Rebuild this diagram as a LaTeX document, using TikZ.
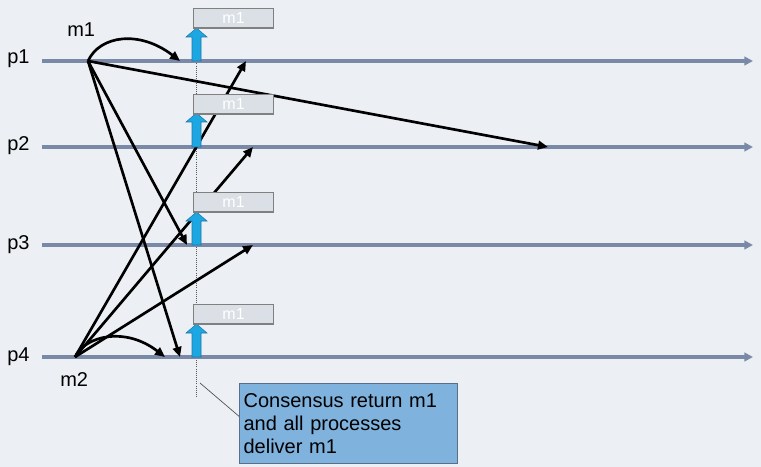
\documentclass[tikz,border=0pt]{standalone}
\usepackage{fontspec}
\setmainfont{Liberation Sans}
\usetikzlibrary{arrows.meta,calc}
\definecolor{bgc}{RGB}{236,239,243}
\definecolor{linec}{RGB}{122,138,166}
\definecolor{bluearr}{RGB}{28,167,226}
\definecolor{bluearrd}{RGB}{30,120,170}
\definecolor{boxfill}{RGB}{218,224,229}
\definecolor{boxdraw}{RGB}{128,128,128}
\definecolor{callfill}{RGB}{127,178,221}
\definecolor{calldraw}{RGB}{90,110,135}
\newcommand\upshaft[2]{%
  \filldraw[uparr] (192,#1) -- (192,{#2+9}) -- (186,{#2+9}) -- (196.5,#2) -- (207,{#2+9}) -- (201,{#2+9}) -- (201,#1) -- cycle;}
\begin{document}
\begin{tikzpicture}[x=0.75pt,y=-0.75pt,
  timeline/.style={draw=linec,line width=2.3pt,-{Triangle[length=6.5pt,width=6.5pt]}},
  msg/.style={draw=black,line width=2pt,-{Triangle[length=7.5pt,width=6.5pt]}},
  lbl/.style={font=\fontsize{15}{18}\selectfont,anchor=base west,inner sep=0pt},
  mbox/.style={draw=boxdraw,fill=boxfill,line width=0.9pt,minimum width=60pt,minimum height=14.5pt,inner sep=0pt,font=\fontsize{12}{14}\selectfont,text=white,anchor=north west},
  uparr/.style={fill=bluearr,draw=bluearrd,line width=0.4pt},
  callbox/.style={draw=calldraw,fill=callfill,line width=0.9pt,anchor=north west,align=left,text width=157.5pt,inner xsep=3pt,inner ysep=0pt,minimum height=60pt,font=\fontsize{15}{17.25}\selectfont},
]
\fill[bgc] (0,0) rectangle (761,467);
\useasboundingbox (0,0) rectangle (761,467);
% dotted decision line
\draw[densely dotted,gray!70!black,line width=0.6pt] (196.5,40) -- (196.5,397);
% timelines
\coordinate (s1) at (42,61);  \coordinate (e1) at (753,61);
\coordinate (s2) at (42,147); \coordinate (e2) at (753,147);
\coordinate (s3) at (42,245); \coordinate (e3) at (753,245);
\coordinate (s4) at (42,357); \coordinate (e4) at (753,357);
\foreach \i in {1,...,4} {\draw[timeline] (s\i) -- (e\i);}
% labels
\node[lbl] (lp1) at (7,64) {p1};
\node[lbl] (lp2) at (7,151) {p2};
\node[lbl] (lp3) at (7,249) {p3};
\node[lbl] (lp4) at (7,361) {p4};
\node[lbl] (lm1) at (67,37) {m1};
\node[lbl] (lm2) at (60,386) {m2};
% message origins and targets
\coordinate (m1o) at (88,61);
\coordinate (m2o) at (75,357);
\coordinate (a1) at (180,61);
\coordinate (a2) at (548,147);
\coordinate (a3) at (187,245);
\coordinate (a4) at (180,357);
\coordinate (b4) at (165,357);
\coordinate (b1) at (246,61);
\coordinate (b2) at (253,147);
\coordinate (b3) at (253,245);
\draw[msg] (m1o) .. controls (100,35) and (140,30) .. (a1);
\draw[msg] (m1o) -- (a2);
\draw[msg] (m1o) -- (a3);
\draw[msg] (m1o) -- (a4);
\draw[msg] (m2o) .. controls (85,336) and (125,326) .. (b4);
\draw[msg] (m2o) -- (b1);
\draw[msg] (m2o) -- (b2);
\draw[msg] (m2o) -- (b3);
% delivery arrows and boxes
\upshaft{61}{28}
\upshaft{147}{113}
\upshaft{245}{212}
\upshaft{357}{324}
\node[mbox] (d1) at (193,8) {m1};
\node[mbox] (d2) at (193,94) {m1};
\node[mbox] (d3) at (193,192) {m1};
\node[mbox] (d4) at (193,304) {m1};
% callout
\coordinate (ptr) at (200,383);
\node[callbox] (callout) at (239,383) {Consensus return m1\\and all processes\\deliver m1};
\draw[gray!60!black,line width=0.5pt] (ptr) -- ($(callout.north west)!0.41!(callout.south west)$);
\end{tikzpicture}
\end{document}
